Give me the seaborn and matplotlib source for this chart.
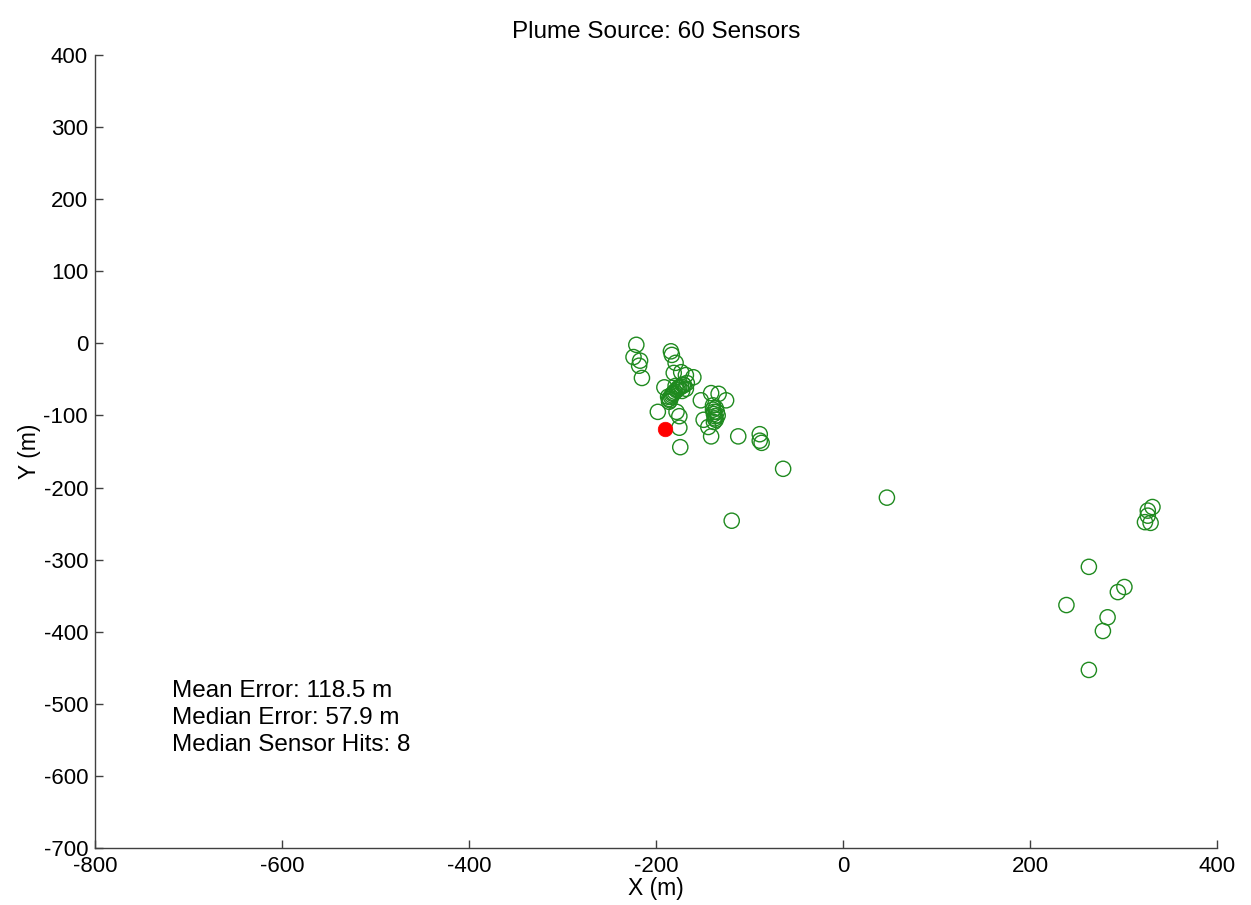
import matplotlib
matplotlib.use("Agg")
import matplotlib.pyplot as plt
import seaborn as sns
import pandas as pd

# Estimated source locations (m)
est_x = [-221, -224, -217, -218, -215, -184, -183, -179, -173, -168, -160, -181,
         -191, -187, -186, -184, -182, -180, -178, -176, -173, -170, -167, -186,
         -179, -172, -168, -198, -178, -175, -175, -174, -152, -141, -133, -125,
         -139, -139, -138, -137, -138, -135, -136, -149, -144, -141, -112, -89,
         -87, -89, -64, -119, 47, 331, 326, 326, 323, 329, 263, 239, 294, 301,
         283, 278, 263,
         -183, -181, -177, -175, -185, -171, -137, -136, -138, -134]
est_y = [-2, -19, -24, -31, -48, -11, -16, -27, -40, -44, -47, -41,
         -61, -74, -81, -74, -70, -67, -65, -62, -60, -58, -55, -77,
         -59, -66, -63, -95, -95, -101, -117, -144, -79, -69, -70, -79,
         -86, -92, -98, -104, -109, -95, -90, -106, -116, -129, -129, -126,
         -138, -135, -174, -246, -214, -227, -232, -239, -248, -249, -310, -363, -345, -338,
         -380, -399, -453,
         -72, -69, -64, -61, -79, -57, -101, -106, -95, -100]

true_x = [-190]
true_y = [-119]

title = "Plume Source: 60 Sensors"
stats_lines = ["Mean Error: 118.5 m", "Median Error: 57.9 m", "Median Sensor Hits: 8"]
stats_y = [-490, -528, -565]
stats_x = -718

x_ticks = [-800, -600, -400, -200, 0, 200, 400]
y_ticks = [400, 300, 200, 100, 0, -100, -200, -300, -400, -500, -600, -700]

sns.set_style("ticks")
plt.rcParams["font.family"] = ["Liberation Sans", "DejaVu Sans"]
plt.rcParams["axes.unicode_minus"] = False
plt.rcParams["text.color"] = "black"
plt.rcParams["axes.labelcolor"] = "black"

fig = plt.figure(figsize=(12.51, 9.05), dpi=100)
ax = fig.add_axes([0.0759, 0.0630, 0.8969, 0.8762])

est = pd.DataFrame({"x": est_x, "y": est_y})
src = pd.DataFrame({"x": true_x, "y": true_y})

sns.scatterplot(data=est, x="x", y="y", ax=ax, marker="o", s=120,
                facecolors="none", edgecolors="#1f8a1f", linewidths=1.0, legend=False)
sns.scatterplot(data=src, x="x", y="y", ax=ax, marker="o", s=110,
                color="red", edgecolor="red", linewidth=0.5, legend=False, zorder=5)

ax.set_xlim(-800, 400)
ax.set_ylim(-700, 400)
ax.set_xticks(x_ticks)
ax.set_yticks(y_ticks)
ax.tick_params(direction="in", length=6, width=1, labelsize=16, colors="#404040",
               labelcolor="black")
ax.tick_params(axis="x", pad=6)
ax.tick_params(axis="y", pad=5)
for s in ["top", "right"]:
    ax.spines[s].set_visible(False)
for s in ["left", "bottom"]:
    ax.spines[s].set_color("#404040")
    ax.spines[s].set_linewidth(1)

ax.set_xlabel("X (m)", fontsize=16.5, labelpad=0)
ax.set_ylabel("Y (m)", fontsize=16.5, labelpad=2)
ax.set_title(title, fontsize=17.5, pad=12)

for line, yy in zip(stats_lines, stats_y):
    ax.text(stats_x, yy, line, fontsize=17.5, va="baseline", ha="left")

fig.savefig("out.png", dpi=100)
